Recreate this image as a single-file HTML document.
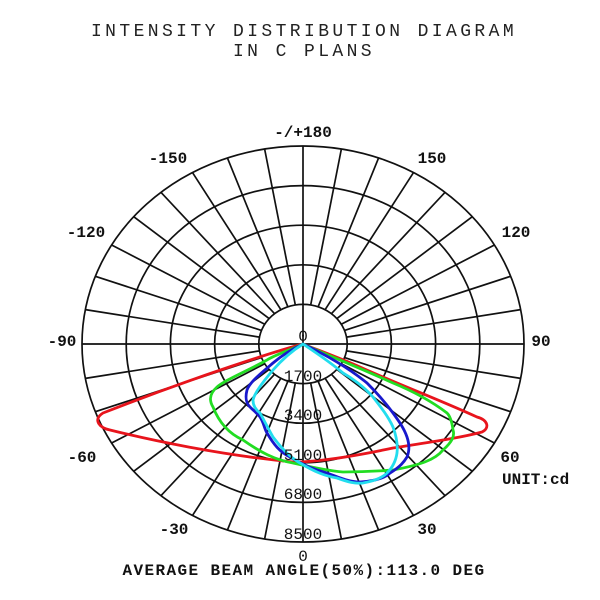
<!DOCTYPE html>
<html><head><meta charset="utf-8"><style>
html,body{margin:0;padding:0;background:#fff;width:600px;height:600px;overflow:hidden}
svg{display:block}
.t{font-family:"Liberation Mono",monospace;font-size:18px;fill:#222;letter-spacing:3.4px}
.l{font-family:"Liberation Mono",monospace;font-size:16px;font-weight:bold;fill:#111}
.v{font-family:"Liberation Mono",monospace;font-size:16px;fill:#111}
</style></head><body>
<svg id="s" width="600" height="600" xmlns="http://www.w3.org/2000/svg">
<text class="t" x="304" y="36" text-anchor="middle">INTENSITY DISTRIBUTION DIAGRAM</text>
<text class="t" x="304" y="56" text-anchor="middle">IN C PLANS</text>
<g id="grid" stroke="#111" stroke-width="1.7" fill="none"></g>
<g fill="none" stroke-width="2.8" stroke-linejoin="round">
<path stroke="#e8141c" d="M303,344 C280,350 200,375 103,413 C92,420 100,428 110,430 C150,440 220,455 293,462 C320,462 360,455 393,448 C430,442 460,438 482,432 C490,428 488,420 477,417 C440,400 400,385 360,367 C335,356 315,349 303,344 Z"/>
<path stroke="#22dd22" d="M303,344 C290,350 275,355 267,360 C245,372 225,380 217,387 C208,395 210,402 213,407 C220,425 232,435 243,440 C260,452 275,460 293,463 C315,468 330,471 343,472 C365,472 380,471 393,470 C420,465 435,460 443,450 C452,442 455,436 453,430 C452,422 450,416 447,413 C430,400 410,390 393,383 C360,368 320,352 303,344 Z"/>
<path stroke="#1818cc" d="M303,344 C290,350 280,357 273,363 C260,374 250,382 247,390 C245,398 246,403 250,407 C255,412 258,414 260,417 C264,423 264,428 267,433 C274,445 280,452 290,457 C303,465 315,470 327,473 C340,478 350,482 360,482 C375,481 385,478 390,473 C400,467 404,462 407,457 C410,450 409,443 407,437 C404,428 398,420 393,413 C385,402 376,392 367,383 C345,365 320,352 303,344 Z"/>
<path stroke="#22ddee" d="M303,344 C290,352 280,362 273,370 C263,382 255,392 253,400 C253,406 256,410 260,413 C265,422 269,430 273,437 C283,450 290,457 300,463 C315,472 325,476 337,478 C348,482 355,484 363,483 C375,481 382,478 387,473 C393,467 396,460 397,453 C398,444 396,435 393,427 C388,416 380,406 373,397 C365,388 355,380 343,373 C330,362 315,352 303,344 Z"/>
</g>
<g id="lab"></g>
<text class="l" x="502" y="484" font-size="13">UNIT:cd</text>
<text class="l" x="304" y="575" text-anchor="middle" font-size="15" letter-spacing="1.4">AVERAGE BEAM ANGLE(50%):113.0 DEG</text>
</svg>
<script>
var cx=303,cy=344,rx=221,ry=198,ns="http://www.w3.org/2000/svg";
var g=document.getElementById('grid'),lab=document.getElementById('lab');
function el(p,t,a){var e=document.createElementNS(ns,t);for(var k in a)e.setAttribute(k,a[k]);p.appendChild(e);return e;}
for(var i=1;i<=5;i++)el(g,'ellipse',{cx:cx,cy:cy,rx:rx*i/5,ry:ry*i/5});
for(var a=0;a<360;a+=10){var t=a*Math.PI/180,s=Math.sin(t),c=Math.cos(t);
 var r0=(a%90==0)?0:0.2;
 el(g,'line',{x1:cx+rx*r0*s,y1:cy+ry*r0*c,x2:cx+rx*s,y2:cy+ry*c});}
var L=[["-/+180",303,137],["150",432,163],["-150",168,163],["120",516,237],["-120",86,237],["90",541,346],["-90",62,346],["60",510,462],["-60",82,462],["30",427,534],["-30",174,534]];
L.forEach(function(d){var e=el(lab,'text',{x:d[1],y:d[2],'text-anchor':'middle','class':'l'});e.textContent=d[0];});
var V=[["0",341],["1700",381],["3400",420],["5100",460],["6800",499],["8500",539],["0",561]];
V.forEach(function(d){var e=el(lab,'text',{x:303,y:d[1],'text-anchor':'middle','class':'v'});e.textContent=d[0];});
</script>
</body></html>
